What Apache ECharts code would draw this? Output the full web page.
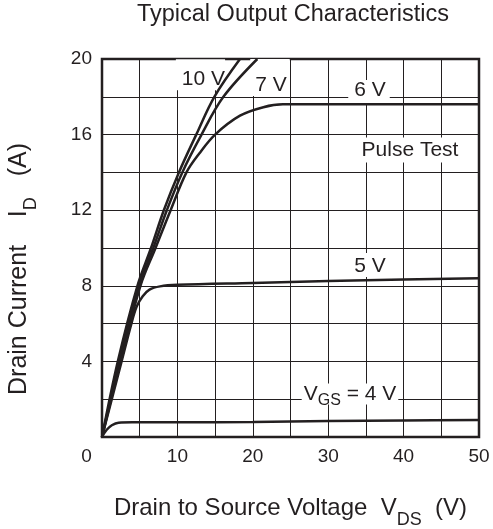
<!DOCTYPE html>
<html>
<head>
<meta charset="utf-8">
<script src="https://cdn.jsdelivr.net/npm/echarts@6/dist/echarts.min.js"></script>
<style>
html,body{margin:0;padding:0;background:#fff;}
#chart{width:493px;height:529px;}
</style>
</head>
<body>
<div id="chart"></div>
<script>
// ---- data ----
const xTickLabels = [0, 10, 20, 30, 40, 50];
const yTickLabels = [4, 8, 12, 16, 20];
const seriesNames = ['10 V', '7 V', '6 V', '5 V', 'VGS = 4 V'];
const curve10V = [[0,0],[2.1,4],[4.7,8],[6.5,10],[8.2,12],[10.2,14],[12.5,16],[14.9,18],[18.3,20]];
const curve7V  = [[0,0],[2.3,4],[4.9,8],[6.8,10],[8.6,12],[10.65,14],[13.2,16],[16.1,18],[20.6,20]];
const curve6V  = [[0,0],[2.45,4],[5.1,8],[7.1,10],[9.1,12],[11.2,14],[12.9,15],[15.0,16],[18.3,17],[21.4,17.45],[24,17.6],[30,17.6],[40,17.6],[50,17.6]];
const curve5V  = [[0,0],[2.6,4],[3.9,6],[4.6,6.9],[5.4,7.45],[6.3,7.8],[7.7,7.97],[10,8.05],[20,8.15],[30,8.25],[40,8.33],[50,8.4]];
const curve4V  = [[0,0],[0.6,0.37],[1.3,0.62],[2.2,0.76],[4,0.78],[10,0.78],[20,0.8],[30,0.84],[40,0.87],[50,0.9]];
const annotationTexts = ['10 V', '7 V', '6 V', 'Pulse Test', '5 V', '{v|V}{s|GS}{v| = 4 V}'];
const titleText = 'Typical Output Characteristics';
const xName = '{n|Drain to Source Voltage  V}{s|DS}{n|  (V)}';
const yName = '{n|Drain Current    I}{s|D}{n|   (A)}';

// ---- chart ----
const INK = '#231f20';
const FONT = "'Liberation Sans', Arial, Helvetica, sans-serif";
const chart = echarts.init(document.getElementById('chart'), null, {renderer: 'canvas'});

function curveSeries(name, data) {
  return {
    name: name, type: 'line', data: data, showSymbol: false, symbol: 'none',
    smooth: 0.35, clip: true, z: 3,
    lineStyle: {color: INK, width: 2.5}, emphasis: {disabled: true}, silent: true
  };
}
function ann(text, coord, padding) {
  return {
    coord: coord, symbol: 'circle', symbolSize: 0, value: 0,
    label: {
      show: true, position: 'inside', formatter: text, color: INK,
      fontSize: 21, lineHeight: 21, fontFamily: FONT,
      backgroundColor: '#fff', padding: padding,
      rich: {
        v: {fontSize: 21, lineHeight: 21, color: INK, fontFamily: FONT},
        s: {fontSize: 16, lineHeight: 16, color: INK, fontFamily: FONT, padding: [14,0,0,0]}
      }
    }
  };
}

const option = {
  animation: false,
  textStyle: {fontFamily: FONT, color: INK},
  title: {
    text: titleText, left: 293, top: 3, padding: 0, textAlign: 'center',
    textStyle: {fontSize: 23.5, fontWeight: 'normal', color: INK, fontFamily: FONT}
  },
  grid: {
    left: 102, right: 14, top: 59, bottom: 92, containLabel: false, outerBoundsMode: 'none',
    show: true, borderColor: INK, borderWidth: 2.5, backgroundColor: 'transparent'
  },
  xAxis: {
    type: 'value', min: 0, max: 50, interval: 5,
    name: xName, nameLocation: 'middle', nameGap: 59,
    nameTextStyle: {
      rich: {
        n: {fontSize: 24, lineHeight: 24, color: INK, fontFamily: FONT},
        s: {fontSize: 18, lineHeight: 18, color: INK, fontFamily: FONT, padding: [24,0,0,0]}
      }
    },
    axisLine: {show: false}, axisTick: {show: false},
    splitLine: {show: true, lineStyle: {color: INK, width: 1}},
    axisLabel: {
      show: true, margin: 10, fontSize: 19, color: INK, showMinLabel: true, showMaxLabel: true,
      formatter: function (v) {
        if (!xTickLabels.includes(v)) return '';
        return v === 0 ? '{z|0}' : String(v);
      },
      rich: {z: {fontSize: 19, color: INK, fontFamily: FONT, padding: [0,31,0,0]}}
    }
  },
  yAxis: {
    type: 'value', min: 0, max: 20, interval: 2,
    name: yName, nameLocation: 'middle', nameRotate: 90, nameGap: 70,
    nameTextStyle: {
      padding: [0,42,0,0],
      rich: {
        n: {fontSize: 25, lineHeight: 25, color: INK, fontFamily: FONT},
        s: {fontSize: 18, lineHeight: 18, color: INK, fontFamily: FONT, padding: [24,0,0,0]}
      }
    },
    axisLine: {show: false}, axisTick: {show: false},
    splitLine: {show: true, lineStyle: {color: INK, width: 1}},
    axisLabel: {
      show: true, margin: 10, fontSize: 19, color: INK, showMinLabel: true, showMaxLabel: true,
      formatter: function (v) { return yTickLabels.includes(v) ? String(v) : ''; }
    }
  },
  series: [
    curveSeries(seriesNames[0], curve10V),
    curveSeries(seriesNames[1], curve7V),
    curveSeries(seriesNames[2], curve6V),
    curveSeries(seriesNames[3], curve5V),
    curveSeries(seriesNames[4], curve4V),
    {
      name: 'annotations', type: 'line', data: [], silent: true, z: 1,
      markPoint: {
        z: 1, silent: true, animation: false,
        data: [
          ann(annotationTexts[0], [13.06, 19.17], [10,0,0,6]),
          ann(annotationTexts[1], [22.28, 19.02], [16,3,0,5]),
          ann(annotationTexts[2], [35.41, 18.23], [0,4,4,6]),
          ann(annotationTexts[3], [40.85, 15.19], [2,4,2,4]),
          ann(annotationTexts[4], [35.54, 9.10], [3,4,0,4]),
          ann(annotationTexts[5], [32.89, 2.275], [0,2,0,2])
        ]
      }
    }
  ]
};
chart.setOption(option);
</script>
</body>
</html>
